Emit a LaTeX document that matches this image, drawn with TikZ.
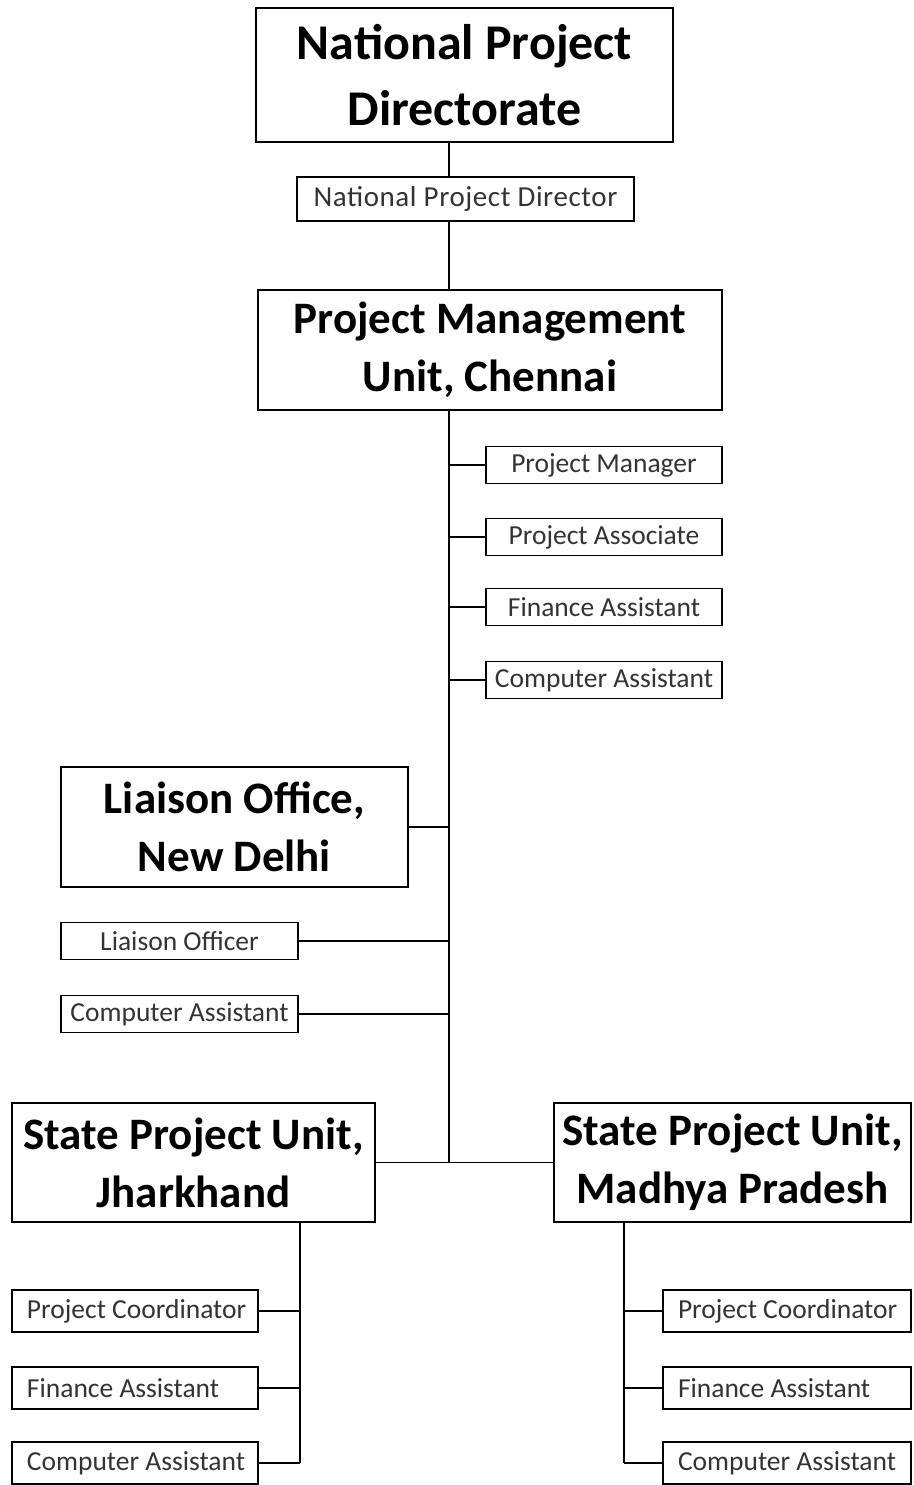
\documentclass[tikz,border=0pt]{standalone}
\usepackage{fontspec}
\setmainfont{Carlito}
\newcommand\leftbx[2]{\makebox[#1][l]{#2}}
\begin{document}
\begin{tikzpicture}[x=1pt,y=-1pt,
  box/.style={draw, line width=1.6pt, inner sep=0pt, align=center, anchor=center},
  bigA/.style={box, font=\fontsize{50}{66}\selectfont\bfseries},
  bigB/.style={box, font=\fontsize{45}{58}\selectfont\bfseries},
  small/.style={box, text=black!80, font=\fontsize{27.5}{30}\selectfont},
  lsmall/.style={small, inner xsep=15pt},
  conn/.style={line width=1.6pt}]
\useasboundingbox (0,0) rectangle (913,1485);
\node[bigA, minimum width=417pt, minimum height=134pt] (npd) at (464.5,75) {National Project\\Directorate};
\node[small, font=\fontsize{29}{32}\selectfont\addfontfeature{LetterSpace=2}, minimum width=337pt, minimum height=44pt] (npdir) at (465.5,199) {National Project Director};
\node[bigB, minimum width=464pt, minimum height=120pt] (pmu) at (490,350) {Project Management\\Unit, Chennai};
\node[small, minimum width=236pt, minimum height=37pt] (pm1) at (604,465) {Project Manager};
\node[small, minimum width=236pt, minimum height=37pt] (pm2) at (604,537) {Project Associate};
\node[small, minimum width=236pt, minimum height=37pt] (pm3) at (604,607) {Finance Assistant};
\node[small, minimum width=236pt, minimum height=37pt] (pm4) at (604,680) {Computer Assistant};
\node[bigB, minimum width=347pt, minimum height=120pt] (lo) at (234.5,827) {Liaison Office,\\New Delhi};
\node[small, minimum width=237pt, minimum height=37pt] (lo1) at (179.5,941) {Liaison Officer};
\node[small, minimum width=237pt, minimum height=37pt] (lo2) at (179.5,1014) {Computer Assistant};
\node[bigB, minimum width=363pt, minimum height=119pt] (spuj) at (193.5,1162.5) {State Project Unit,\\Jharkhand};
\node[bigB, minimum width=357pt, minimum height=119pt] (spum) at (732.5,1162.5) {State Project Unit,\\Madhya Pradesh};
\node[lsmall, minimum height=42pt] (j1) at (135,1311) {\leftbx{216pt}{Project Coordinator}};
\node[lsmall, minimum height=42pt] (j2) at (135,1388) {\leftbx{216pt}{Finance Assistant}};
\node[lsmall, minimum height=42pt] (j3) at (135,1463) {\leftbx{216pt}{Computer Assistant}};
\node[lsmall, minimum height=42pt] (m1) at (787,1311) {\leftbx{218pt}{Project Coordinator}};
\node[lsmall, minimum height=42pt] (m2) at (787,1388) {\leftbx{218pt}{Finance Assistant}};
\node[lsmall, minimum height=42pt] (m3) at (787,1463) {\leftbx{218pt}{Computer Assistant}};
\coordinate (tx) at (449,0);
\coordinate (jx) at (300,0);
\coordinate (mx) at (624,0);
\coordinate (junc) at (449,1163);
\draw[conn] (npd.south -| tx) -- (npdir.north -| tx);
\draw[conn] (npdir.south -| tx) -- (pmu.north -| tx);
\draw[conn] (pmu.south -| tx) -- (junc);
\foreach \n in {pm1,pm2,pm3,pm4} \draw[conn] (\n.west) -- (\n.west -| tx);
\foreach \n in {lo,lo1,lo2} \draw[conn] (\n.east) -- (\n.east -| tx);
\draw[conn] (spuj.east) -- (spum.west);
\draw[conn] (spuj.south -| jx) -- (j3.east -| jx);
\foreach \n in {j1,j2,j3} \draw[conn] (\n.east) -- (\n.east -| jx);
\draw[conn] (spum.south -| mx) -- (m3.west -| mx);
\foreach \n in {m1,m2,m3} \draw[conn] (\n.west) -- (\n.west -| mx);
\end{tikzpicture}
\end{document}
